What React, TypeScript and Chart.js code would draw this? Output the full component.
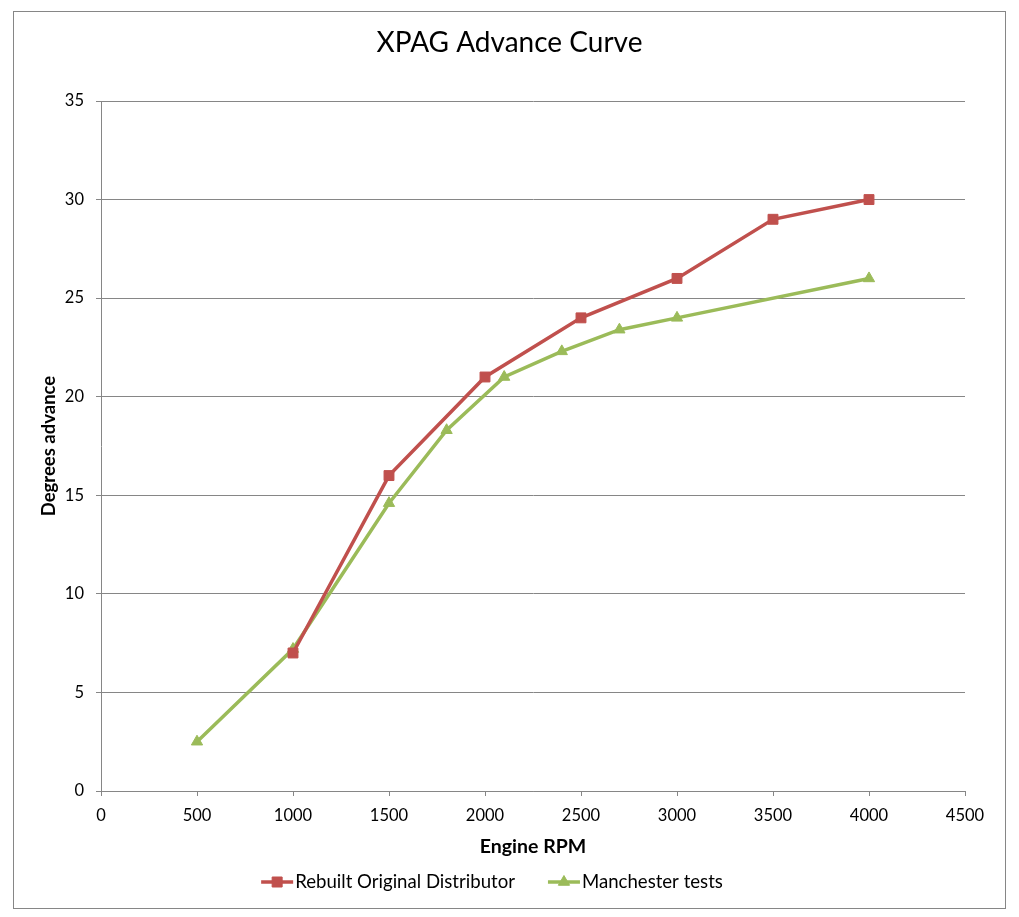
import React, { useEffect, useRef } from "react";
import { Chart, registerables } from "chart.js";

Chart.register(...registerables);

const chartTitle = "XPAG Advance Curve";
const xAxisTitle = "Engine RPM";
const yAxisTitle = "Degrees advance";

const rebuiltLabel = "Rebuilt Original Distributor";
const rebuiltRpm = [1000, 1500, 2000, 2500, 3000, 3500, 4000];
const rebuiltAdvance = [7, 16, 21, 24, 26, 29, 30];

const manchesterLabel = "Manchester tests";
const manchesterRpm = [500, 1000, 1500, 1800, 2100, 2400, 2700, 3000, 4000];
const manchesterAdvance = [2.5, 7.2, 14.6, 18.3, 21, 22.3, 23.4, 24, 26];

const RED = "#C0504D";
const GREEN = "#9BBB59";
const GRAY = "#868686";
const FONT = "Lato, 'Open Sans', sans-serif";

function drawMarker(ctx: CanvasRenderingContext2D, style: string, x: number, y: number, color: string) {
  ctx.save();
  ctx.fillStyle = color;
  ctx.strokeStyle = color;
  ctx.lineWidth = 1;
  ctx.beginPath();
  if (style === "rect") {
    ctx.rect(x - 5, y - 5, 10, 10);
  } else {
    const r = 6.5;
    ctx.moveTo(x, y - r);
    ctx.lineTo(x + r * 0.866, y + r / 2);
    ctx.lineTo(x - r * 0.866, y + r / 2);
    ctx.closePath();
  }
  ctx.fill();
  ctx.stroke();
  ctx.restore();
}

const frameAndLegend = {
  id: "frameAndLegend",
  afterDraw(chart: any) {
    const ctx: CanvasRenderingContext2D = chart.ctx;
    ctx.save();
    ctx.strokeStyle = GRAY;
    ctx.lineWidth = 1;
    ctx.strokeRect(13.5, 11.5, 992, 897);

    const items = chart.data.datasets.map((d: any) => ({
      text: d.label,
      color: d.borderColor,
      style: d.pointStyle,
    }));
    ctx.font = `18.6px ${FONT}`;
    ctx.textBaseline = "middle";
    ctx.textAlign = "left";
    const lineW = 32;
    const gap = 2;
    const spacing = 33;
    let total = 0;
    items.forEach((it: any, i: number) => {
      total += lineW + gap + ctx.measureText(it.text).width + (i < items.length - 1 ? spacing : 0);
    });
    const cy = 882;
    let x = 492 - total / 2;
    items.forEach((it: any) => {
      ctx.strokeStyle = it.color;
      ctx.lineWidth = 3.5;
      ctx.beginPath();
      ctx.moveTo(x, cy);
      ctx.lineTo(x + lineW, cy);
      ctx.stroke();
      drawMarker(ctx, it.style, x + lineW / 2, cy, it.color);
      x += lineW + gap;
      ctx.fillStyle = "#000";
      ctx.fillText(it.text, x, cy);
      x += ctx.measureText(it.text).width + spacing;
    });
    ctx.restore();
  },
};

const plainTick = (v: any) => String(v);

export default function App() {
  const canvasRef = useRef<HTMLCanvasElement | null>(null);

  useEffect(() => {
    if (!canvasRef.current) return;
    Chart.defaults.font.family = FONT;
    Chart.defaults.color = "#000";
    const chart = new Chart(canvasRef.current, {
      type: "scatter",
      data: {
        datasets: [
          {
            label: rebuiltLabel,
            data: rebuiltRpm.map((x, i) => ({ x, y: rebuiltAdvance[i] })),
            showLine: true,
            borderColor: RED,
            backgroundColor: RED,
            borderWidth: 3.5,
            pointStyle: "rect",
            pointRadius: 7,
            pointBorderWidth: 1,
            pointBackgroundColor: RED,
            pointBorderColor: RED,
          },
          {
            label: manchesterLabel,
            data: manchesterRpm.map((x, i) => ({ x, y: manchesterAdvance[i] })),
            showLine: true,
            borderColor: GREEN,
            backgroundColor: GREEN,
            borderWidth: 3.5,
            pointStyle: "triangle",
            pointRadius: 6.5,
            pointBorderWidth: 1,
            pointBackgroundColor: GREEN,
            pointBorderColor: GREEN,
          },
        ],
      },
      options: {
        animation: false,
        responsive: false,
        devicePixelRatio: 1,
        layout: { padding: { left: 0, right: 0, top: 0, bottom: 59 } },
        plugins: {
          legend: { display: false },
          tooltip: { enabled: false },
          title: {
            display: true,
            text: chartTitle,
            color: "#000",
            font: { size: 28, weight: "normal", family: FONT },
            padding: { top: 26, bottom: 41.4 },
          },
        },
        scales: {
          x: {
            type: "linear",
            min: 0,
            max: 4500,
            position: "bottom",
            ticks: { stepSize: 500, padding: 10, font: { size: 16.5 }, color: "#000", maxRotation: 0, callback: plainTick },
            grid: { drawOnChartArea: false, drawTicks: true, tickLength: 5, color: GRAY },
            border: { display: true, color: GRAY },
            title: {
              display: true,
              text: xAxisTitle,
              color: "#000",
              font: { size: 19.5, weight: "bold" },
              padding: { top: 0, bottom: 0 },
            },
            afterFit: (s: any) => {
              s.height = 67;
            },
          },
          y: {
            type: "linear",
            min: 0,
            max: 35,
            position: "left",
            ticks: { stepSize: 5, padding: 12, font: { size: 16.5 }, color: "#000", callback: plainTick },
            grid: { drawOnChartArea: true, drawTicks: true, tickLength: 5, color: GRAY },
            border: { display: true, color: GRAY },
            title: {
              display: true,
              text: yAxisTitle,
              color: "#000",
              font: { size: 18.5, weight: "bold" },
              padding: { top: 38, bottom: 0 },
            },
            afterFit: (s: any) => {
              s.width = 101;
            },
          },
          yRight: {
            type: "linear",
            position: "right",
            display: true,
            ticks: { display: false },
            grid: { display: false },
            border: { display: false },
            afterFit: (s: any) => {
              s.width = 54;
            },
          },
        },
      },
      plugins: [frameAndLegend],
    });
    return () => chart.destroy();
  }, []);

  return (
    <div style={{ position: "absolute", left: 0, top: 0, width: 1019, height: 917, background: "#fff" }}>
      <canvas ref={canvasRef} width={1019} height={917} style={{ display: "block" }} />
    </div>
  );
}
